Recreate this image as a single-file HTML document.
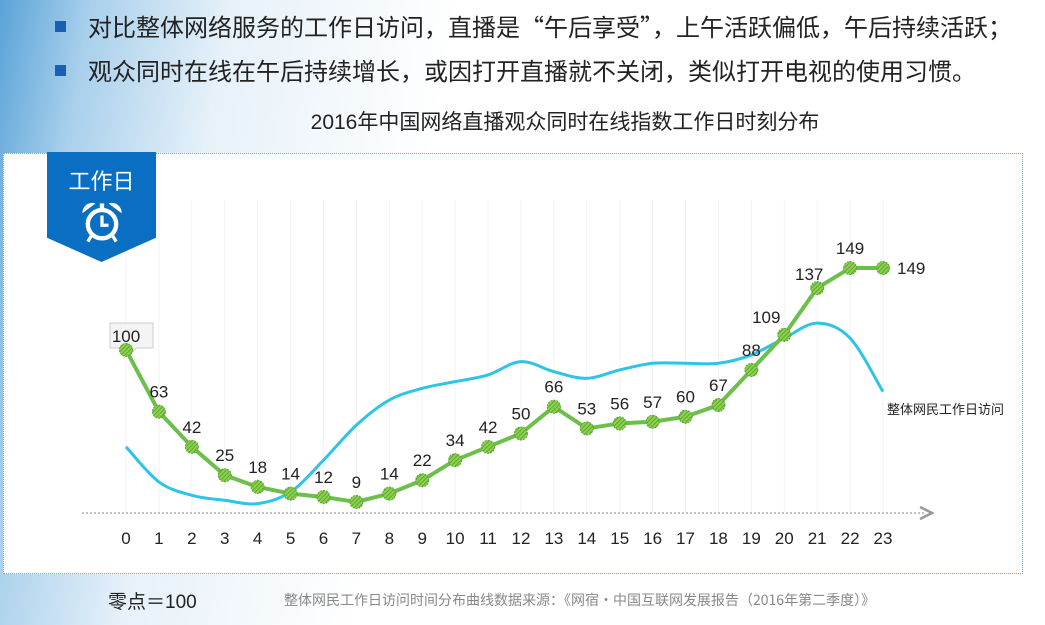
<!DOCTYPE html>
<html><head><meta charset="utf-8">
<style>
body{margin:0;width:1045px;height:625px;overflow:hidden;position:relative;font-family:"Liberation Sans","Noto Sans CJK SC",sans-serif;
background:linear-gradient(100deg,#5aa3d8 0%,#a9d0ec 8%,#e6f1f9 20%,#ffffff 40%,#ffffff 100%);}
.bul{position:absolute;left:55px;font-size:24px;color:#222;font-family:"Noto Sans CJK SC",sans-serif;white-space:nowrap}
.bul span.sq{display:inline-block;width:11px;height:11px;background:#1a5fb4;margin-right:22px;vertical-align:4px}
#box{position:absolute;left:3px;top:153px;width:1018px;height:419px;border:1px dotted #7fa7c9;background:#fff;}
#badge{position:absolute;z-index:5;left:47px;top:152px;width:109px;height:110px;background:#0a6fc2;clip-path:polygon(0 0,100% 0,100% 78%,50% 100%,0 78%);color:#fff;text-align:center}
</style></head><body>
<div class="bul" style="top:8px"><span class="sq"></span>对比整体网络服务的工作日访问，直播是“午后享受”，上午活跃偏低，午后持续活跃；</div>
<div class="bul" style="top:52px"><span class="sq"></span>观众同时在线在午后持续增长，或因打开直播就不关闭，类似打开电视的使用习惯。</div>
<div style="position:absolute;left:0;width:1130px;top:106px;text-align:center;font-size:21px;color:#222;font-family:'Liberation Sans','Noto Sans CJK SC',sans-serif">2016年中国网络直播观众同时在线指数工作日时刻分布</div>
<div id="box"></div>
<div id="badge">
<div style="font-size:22px;margin-top:12px">工作日</div>
<svg width="48" height="48" viewBox="0 0 44 44" style="margin-top:2px">
<circle cx="22" cy="24" r="13" fill="none" stroke="#fff" stroke-width="4"/>
<path d="M4 14 A9 9 0 0 1 16 5 Z" fill="#fff"/><path d="M40 14 A9 9 0 0 0 28 5 Z" fill="#fff"/>
<path d="M22 16 V25 H28" fill="none" stroke="#fff" stroke-width="3"/>
<path d="M12 35 L9 40 M32 35 L35 40" stroke="#fff" stroke-width="3"/>
<rect x="20" y="5" width="4" height="5" fill="#fff"/></svg>
</div>
<svg id="chart" width="1045" height="625" style="position:absolute;left:0;top:0"></svg>
<div style="position:absolute;left:108px;top:587px;font-size:19px;color:#222">零点＝100</div>
<div style="position:absolute;left:284px;top:590px;font-size:14px;color:#888;font-family:'Noto Sans CJK SC',sans-serif;white-space:nowrap">整体网民工作日访问时间分布曲线数据来源：《网宿·中国互联网发展报告（2016年第二季度）》</div>
<script>
const hours=[0,1,2,3,4,5,6,7,8,9,10,11,12,13,14,15,16,17,18,19,20,21,22,23];
const liveValues=[100,63,42,25,18,14,12,9,14,22,34,42,50,66,53,56,57,60,67,88,109,137,149,149];
const webValues=[42,21,13,10,8,15,34,55,70,77,81,85,93,87,83,88,92,92,92,97,107,116,107,75];
const NS='http://www.w3.org/2000/svg';
const svg=document.getElementById('chart');
const X=h=>126+h*(757/23);
const Y=v=>517-v*1.671;
function mk(t,a){const e=document.createElementNS(NS,t);for(const k in a)e.setAttribute(k,a[k]);svg.appendChild(e);return e;}
const defs=mk('defs',{});
defs.innerHTML='<pattern id="hatch" width="3" height="3" patternUnits="userSpaceOnUse" patternTransform="rotate(45)"><rect width="3" height="3" fill="#8fd14f"/><rect width="1" height="3" fill="#5aa832"/></pattern>';
hours.forEach(h=>{const g=mk('line',{x1:X(h),x2:X(h),y1:200,y2:512,stroke:'#f3f3f3','stroke-width':1});
});
let ax=mk('line',{x1:82,x2:925,y1:513,y2:513,stroke:'#aaa','stroke-width':1.5,'stroke-dasharray':'2,2'});

let ar=mk('path',{d:'M920 507 L932 513 L920 519',fill:'none',stroke:'#999','stroke-width':2.5});

hours.forEach(h=>{const t=mk('text',{x:X(h),y:544,'text-anchor':'middle','font-size':17,fill:'#222'});t.textContent=h;
});
const wp=hours.map((h,i)=>[X(h),Y(webValues[i])]);
let d='M'+wp[0][0]+' '+wp[0][1];
for(let i=0;i<wp.length-1;i++){const p0=wp[Math.max(0,i-1)],p1=wp[i],p2=wp[i+1],p3=wp[Math.min(wp.length-1,i+2)];
d+=` C${p1[0]+(p2[0]-p0[0])/6} ${p1[1]+(p2[1]-p0[1])/6} ${p2[0]-(p3[0]-p1[0])/6} ${p2[1]-(p3[1]-p1[1])/6} ${p2[0]} ${p2[1]}`;}
let wc=mk('path',{d:d,fill:'none',stroke:'#2ec4e8','stroke-width':3});

let wl=mk('text',{x:887,y:414,'font-size':13,fill:'#222'});wl.textContent='整体网民工作日访问';

let ll=mk('polyline',{points:hours.map((h,i)=>X(h)+','+Y(liveValues[i])).join(' '),fill:'none',stroke:'#6cbf4a','stroke-width':4,'stroke-linejoin':'round'});

let cb=mk('path',{d:'M110 323 H153 V348 H136 L131 354 L126 348 H110 Z',fill:'#f4f4f4',stroke:'#ccc'});

hours.forEach((h,i)=>{const x=X(h),y=Y(liveValues[i]);
const c=mk('circle',{cx:x,cy:y,r:6.5,fill:'url(#hatch)',stroke:'#5aa832','stroke-width':1,'stroke-dasharray':'2,1'});

let tx=x,ty=y-14,anchor='middle';
if(i===0){ty=342;} else if(i===23){tx=x+14;ty=y+6;anchor='start';} else if(i===20){tx=x-18;ty=y-12;} else if(i===21){tx=x-8;ty=y-8;}
const t=mk('text',{x:tx,y:ty,'text-anchor':anchor,'font-size':17,fill:'#222'});t.textContent=liveValues[i];
});
</script>
</body></html>
